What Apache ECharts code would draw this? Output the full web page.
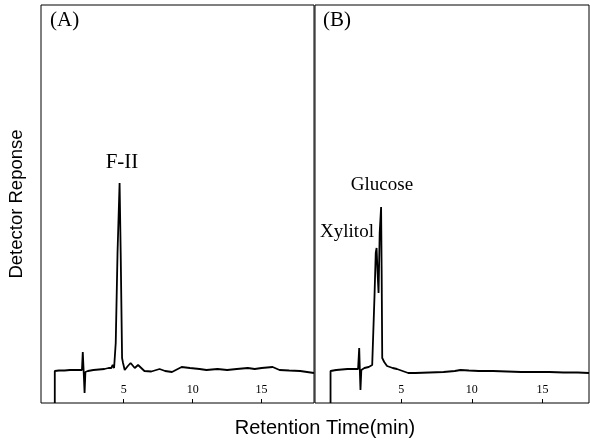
<!DOCTYPE html>
<html>
<head>
<meta charset="utf-8">
<script src="https://cdn.jsdelivr.net/npm/echarts@6/dist/echarts.min.js"></script>
<style>html,body{margin:0;padding:0;background:#fff}#c{width:590px;height:443px}</style>
</head>
<body>
<div id="c"></div>
<script>
// Panel A: retention time (min) and detector response (arbitrary units)
var timeA = [0,0,0.3,0.7,1.1,1.5,1.8,1.97,2.03,2.1,2.16,2.22,2.4,2.8,3.2,3.6,3.9,4.1,4.2,4.3,4.37,4.42,4.55,4.7,4.78,4.88,4.95,5.07,5.3,5.5,5.8,6.04,6.5,7.0,7.6,8.0,8.5,9.2,9.8,10.5,11.0,11.8,12.5,13.2,14.0,14.5,15.0,15.8,16.3,17.0,17.8,18.8];
var respA = [0,32,32.5,32.5,33,33,33,33,51,30,10,31,32,33,33.5,34,35,35,38,35,36,60,150,220,150,45,40,33,37,40,35,38,32,31.5,34,32,31,36,35,34,33,34,33,34,35,34,35,36,33,32.5,32,30];
// Panel B
var timeB = [0,0,0.4,0.8,1.2,1.6,1.95,2.0,2.03,2.08,2.12,2.18,2.4,2.7,2.95,3.05,3.12,3.2,3.26,3.33,3.4,3.48,3.58,3.62,3.66,3.8,4.0,4.4,4.7,5.1,5.5,6.0,7.0,8.0,8.8,9.2,9.8,10.5,11.5,12.5,13.5,14.5,15.5,16.5,17.5,18.3];
var respB = [0,32,33,33.5,34,34,34,34,55,30,13,33,35,36,38,40,110,150,155,130,110,170,196,130,45,41,37,35,34,32,30,30,30.5,31,32,33,32.5,32,32,31.5,31,31,31,30.5,30.5,30];
var tickValues = [5, 10, 15];
var panelLabels = ['(A)', '(B)'];
var peakLabels = ['F-II', 'Glucose', 'Xylitol'];

function pairs(t, v) { return t.map(function (x, i) { return [x, v[i]]; }); }

var serif = 'Liberation Serif';
var sans = 'Liberation Sans';

function xAx(gi, mn, mx) {
  return {
    type: 'value', gridIndex: gi, min: mn, max: mx,
    axisLine: { show: false },
    splitLine: { show: false },
    axisTick: { show: true, inside: true, length: 4, customValues: tickValues, lineStyle: { color: '#000', width: 1 } },
    axisLabel: { show: true, inside: true, margin: 7, customValues: tickValues, color: '#000', fontFamily: serif, fontSize: 12 }
  };
}
function yAx(gi, name) {
  return {
    type: 'value', gridIndex: gi, min: 0, max: 398,
    axisLine: { show: false }, axisTick: { show: false }, axisLabel: { show: false }, splitLine: { show: false },
    name: name, nameLocation: 'middle', nameGap: 15, nameRotate: 90,
    nameTextStyle: { fontFamily: sans, fontSize: 18.5, color: '#000' }
  };
}

var chart = echarts.init(document.getElementById('c'), null, { renderer: 'canvas' });
chart.setOption({
  animation: false,
  backgroundColor: '#fff',
  grid: [
    { left: 41, top: 5, width: 273, height: 398, show: true, borderColor: '#000', borderWidth: 1, backgroundColor: 'transparent' },
    { left: 315, top: 5, width: 274, height: 398, show: true, borderColor: '#000', borderWidth: 1, backgroundColor: 'transparent' }
  ],
  xAxis: [xAx(0, -1, 18.8), xAx(1, -1.1, 18.3)],
  yAxis: [yAx(0, 'Detector Reponse'), yAx(1, '')],
  series: [
    { type: 'line', xAxisIndex: 0, yAxisIndex: 0, data: pairs(timeA, respA), showSymbol: false, lineStyle: { color: '#000', width: 1.8 } },
    { type: 'line', xAxisIndex: 1, yAxisIndex: 1, data: pairs(timeB, respB), showSymbol: false, lineStyle: { color: '#000', width: 1.8 } }
  ],
  graphic: [
    { type: 'text', left: 50, top: 10, style: { text: panelLabels[0], font: '21px "' + serif + '"', fill: '#000' } },
    { type: 'text', left: 323, top: 10, style: { text: panelLabels[1], font: '21px "' + serif + '"', fill: '#000' } },
    { type: 'text', x: 122, y: 162, style: { text: peakLabels[0], font: '21px "' + serif + '"', fill: '#000', align: 'center', verticalAlign: 'middle' } },
    { type: 'text', x: 382, y: 185, style: { text: peakLabels[1], font: '19px "' + serif + '"', fill: '#000', align: 'center', verticalAlign: 'middle' } },
    { type: 'text', x: 347, y: 232, style: { text: peakLabels[2], font: '19px "' + serif + '"', fill: '#000', align: 'center', verticalAlign: 'middle' } },
    { type: 'text', x: 325, y: 428, style: { text: 'Retention Time(min)', font: '20px "' + sans + '"', fill: '#000', align: 'center', verticalAlign: 'middle' } }
  ]
});
</script>
</body>
</html>
